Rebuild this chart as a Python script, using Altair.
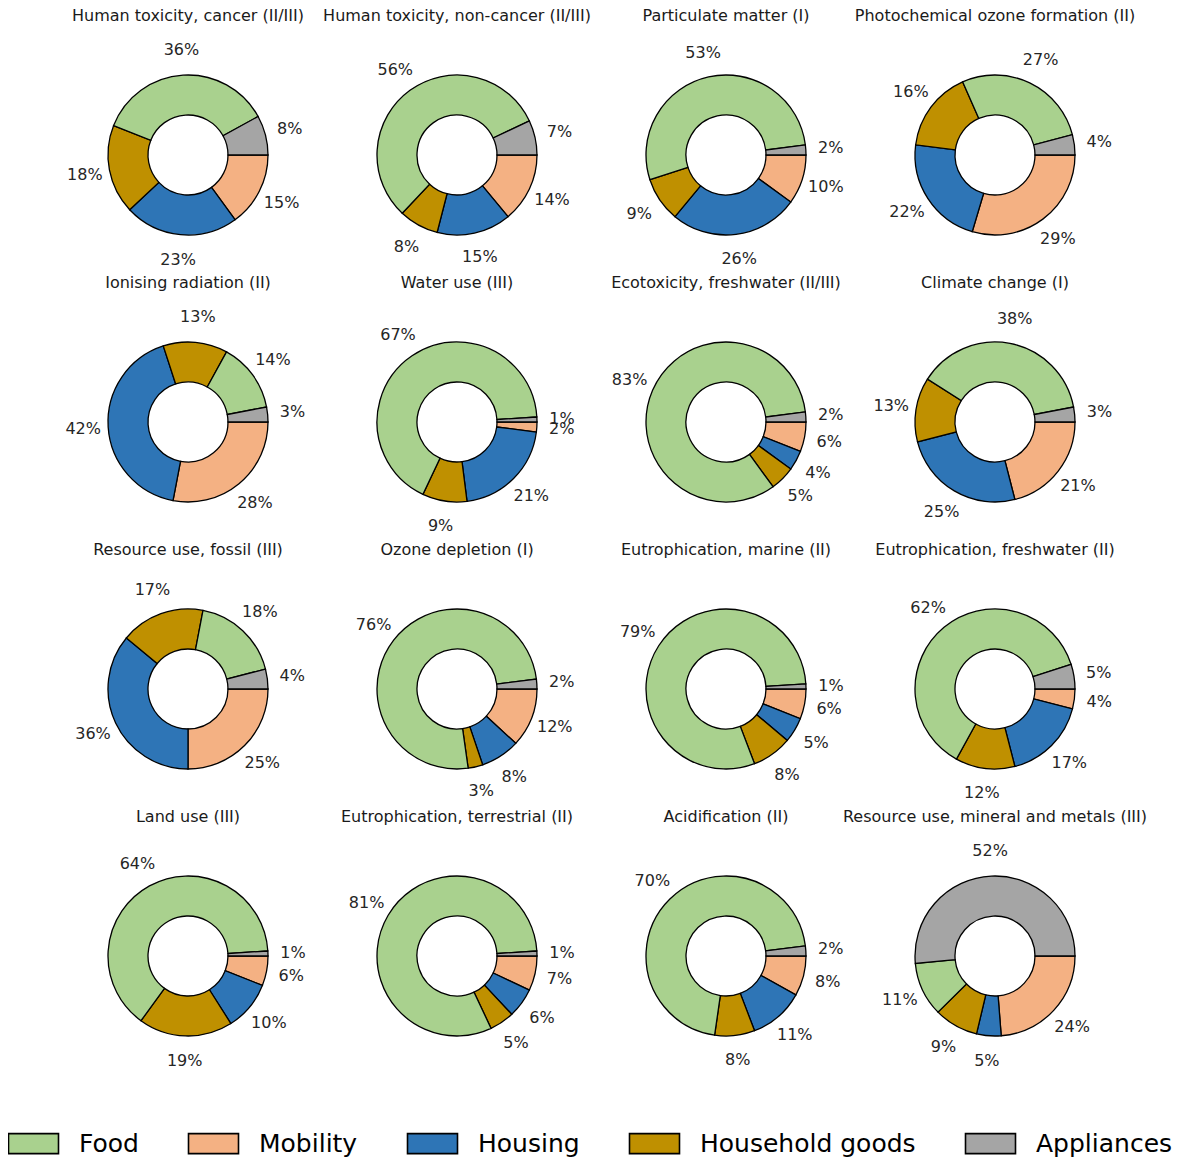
import altair as alt
import pandas as pd

titles = [
    "Human toxicity, cancer (II/III)", "Human toxicity, non-cancer (II/III)",
    "Particulate matter (I)", "Photochemical ozone formation (II)",
    "Ionising radiation (II)", "Water use (III)",
    "Ecotoxicity, freshwater (II/III)", "Climate change (I)",
    "Resource use, fossil (III)", "Ozone depletion (I)",
    "Eutrophication, marine (II)", "Eutrophication, freshwater (II)",
    "Land use (III)", "Eutrophication, terrestrial (II)",
    "Acidification (II)", "Resource use, mineral and metals (III)",
]

food       = [36, 56, 53, 27, 14, 67, 83, 38, 18, 76, 79, 62, 64, 81, 70, 11]
mobility   = [15, 14, 10, 29, 28,  2,  6, 21, 25, 12,  6,  4,  6,  7,  8, 24]
housing    = [23, 15, 26, 22, 42, 21,  4, 25, 36,  8,  5, 17, 10,  6, 11,  5]
household  = [18,  8,  9, 16, 13,  9,  5, 13, 17,  3,  8, 12, 19,  5,  8,  9]
appliances = [ 8,  7,  2,  4,  3,  1,  2,  3,  4,  2,  1,  5,  1,  1,  2, 52]

legend_cats = ["Food", "Mobility", "Housing", "Household goods", "Appliances"]
legend_colors = ["#a9d18e", "#f4b183", "#2e75b6", "#bf9000", "#a5a5a5"]
stack_order = ["Mobility", "Housing", "Household goods", "Food", "Appliances"]

series = {
    "Food": food, "Mobility": mobility, "Housing": housing,
    "Household goods": household, "Appliances": appliances,
}

FONT = "DejaVu Sans"
PW, PH = 269, 267
CX, CY = 180, 147
TITLE_Y = 8
R_OUT, R_IN, R_LAB = 80, 40, 105

color_enc = alt.Color(
    "cat:N",
    scale=alt.Scale(domain=legend_cats, range=legend_colors),
    legend=alt.Legend(
        title=None, orient="none", direction="horizontal",
        legendX=13, legendY=1123,
        symbolType="M-2.5,-1H2.5V1H-2.5Z", symbolSize=400,
        symbolStrokeColor="black", symbolStrokeWidth=1.6, symbolOpacity=1,
        labelFont=FONT, labelFontSize=25, labelColor="black",
        labelOffset=33, columnPadding=46, labelLimit=500,
    ),
)


def panel(i):
    rows = []
    for cat in stack_order:
        v = series[cat][i]
        rows.append({"cat": cat, "v": v, "o": stack_order.index(cat), "lab": f"{v}%"})
    df = pd.DataFrame(rows)
    base = alt.Chart(df)
    theta = alt.Theta("v:Q", stack="normalize",
                      scale=alt.Scale(range=[1.5707963, 7.8539816]))
    arcs = base.mark_arc(
        outerRadius=R_OUT, innerRadius=R_IN, stroke="black", strokeWidth=1.3
    ).encode(
        theta=theta, color=color_enc, order=alt.Order("o:Q"),
        x=alt.value(CX), y=alt.value(CY),
    )
    labels = base.mark_text(
        radius=R_LAB, font=FONT, fontSize=16, color="#262626",
        align="center", baseline="middle",
    ).encode(
        theta=theta, text="lab:N", detail="cat:N", order=alt.Order("o:Q"),
        x=alt.value(CX), y=alt.value(CY),
    )
    title = alt.Chart(pd.DataFrame({"t": [titles[i]]})).mark_text(
        font=FONT, fontSize=16, color="#1a1a1a", align="center", baseline="middle"
    ).encode(text="t:N", x=alt.value(CX), y=alt.value(TITLE_Y))
    return alt.layer(arcs, labels, title).properties(width=PW, height=PH)


chart = alt.concat(
    *[panel(i) for i in range(16)], columns=4, spacing=0, bounds="flush"
).resolve_scale(color="shared").properties(padding=0).configure_view(stroke=None)

chart.save("out.html", embed_options={"renderer": "svg", "actions": False})
